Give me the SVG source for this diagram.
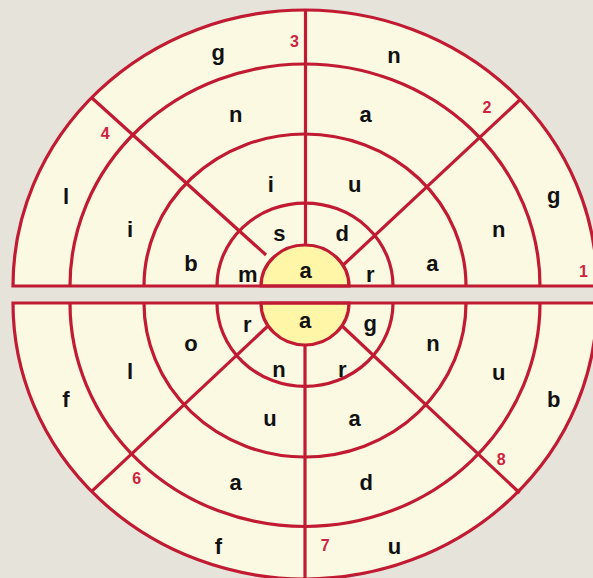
<svg xmlns="http://www.w3.org/2000/svg" width="593" height="578" viewBox="0 0 593 578">
<style>
.bg{fill:#E6E4DA}
.face{fill:#FCF9E3;stroke:none}
.edge{fill:none;stroke:#C01B32;stroke-width:3.2;stroke-linejoin:miter}
.ring{fill:none;stroke:#C01B32;stroke-width:3.2}
.disc{fill:#FFF6A8;stroke:#C01B32;stroke-width:3.2}
.lt{font-family:"Liberation Sans",Arial,Helvetica,sans-serif;font-weight:bold;font-size:22px;fill:#111;text-anchor:middle}
.num{font-family:"Liberation Sans",Arial,Helvetica,sans-serif;font-weight:bold;font-size:16px;fill:#CC2340;text-anchor:middle}
</style>
<rect class="bg" x="0" y="0" width="593" height="578"/>

<g id="top-half">
  <path class="face" d="M13,286 A292,276 0 0 1 597,286 Z"/>
  <g id="top-rings">
    <path class="ring" d="M70,286 A235,222 0 0 1 540,286"/>
    <path class="ring" d="M144,286 A161,152 0 0 1 466,286"/>
    <path class="ring" d="M217,286 A88,83 0 0 1 393,286"/>
  </g>
  <g id="top-spokes">
    <line class="ring" x1="305.5" y1="250" x2="305.5" y2="11"/>
    <line class="ring" x1="340" y1="268" x2="519.7" y2="100"/>
    <line class="ring" x1="266" y1="255" x2="91.7" y2="97.7"/>
  </g>
  <path class="disc" d="M261,286 A44,41 0 0 1 349,286 Z"/>
  <path class="edge" d="M13,286 A292,276 0 0 1 597,286 Z"/>
</g>

<g id="bottom-half">
  <path class="face" d="M13,303 A292,276 0 0 0 597,303 Z"/>
  <g id="bottom-rings">
    <path class="ring" d="M70,303 A235,223.5 0 0 0 540,303"/>
    <path class="ring" d="M144,303 A161,154 0 0 0 466,303"/>
    <path class="ring" d="M217,303 A88,83.5 0 0 0 393,303"/>
  </g>
  <g id="bottom-spokes">
    <line class="ring" x1="305" y1="340" x2="305" y2="585"/>
    <line class="ring" x1="270" y1="324" x2="91.7" y2="491.3"/>
    <line class="ring" x1="340" y1="324" x2="519.7" y2="493"/>
  </g>
  <path class="disc" d="M261,303 A44,42 0 0 0 349,303 Z"/>
  <path class="edge" d="M13,303 A292,276 0 0 0 597,303 Z"/>
</g>

<g id="top-labels">
  <text class="lt" x="218.3" y="60">g</text>
  <text class="lt" x="394" y="62.5">n</text>
  <text class="lt" x="66" y="204">l</text>
  <text class="lt" x="553.7" y="203">g</text>
  <text class="lt" x="235.7" y="122">n</text>
  <text class="lt" x="365.7" y="122">a</text>
  <text class="lt" x="130" y="237">i</text>
  <text class="lt" x="498.7" y="237">n</text>
  <text class="lt" x="270.7" y="192">i</text>
  <text class="lt" x="354.7" y="192">u</text>
  <text class="lt" x="191" y="271">b</text>
  <text class="lt" x="432.3" y="270.5">a</text>
  <text class="lt" x="279.3" y="240.5">s</text>
  <text class="lt" x="342.3" y="240.5">d</text>
  <text class="lt" x="247.7" y="281.5">m</text>
  <text class="lt" x="370.3" y="281.5">r</text>
  <text class="lt" x="305.5" y="278">a</text>
  <text class="num" x="294.5" y="46.5">3</text>
  <text class="num" x="487" y="113">2</text>
  <text class="num" x="105.3" y="139">4</text>
  <text class="num" x="583.5" y="276.5">1</text>
</g>

<g id="bottom-labels">
  <text class="lt" x="305" y="328">a</text>
  <text class="lt" x="247.3" y="331.5">r</text>
  <text class="lt" x="370.3" y="330.5">g</text>
  <text class="lt" x="279" y="377">n</text>
  <text class="lt" x="342.3" y="377">r</text>
  <text class="lt" x="191" y="350.5">o</text>
  <text class="lt" x="433" y="350.5">n</text>
  <text class="lt" x="270" y="426">u</text>
  <text class="lt" x="354.7" y="426">a</text>
  <text class="lt" x="130" y="378.5">l</text>
  <text class="lt" x="498.7" y="379.5">u</text>
  <text class="lt" x="235.7" y="490">a</text>
  <text class="lt" x="366.3" y="490">d</text>
  <text class="lt" x="66" y="407">f</text>
  <text class="lt" x="553.7" y="407">b</text>
  <text class="lt" x="218.3" y="554">f</text>
  <text class="lt" x="394.5" y="554.3">u</text>
  <text class="num" x="136.7" y="483.5">6</text>
  <text class="num" x="325.3" y="550.5">7</text>
  <text class="num" x="501.3" y="465">8</text>
</g>
</svg>
